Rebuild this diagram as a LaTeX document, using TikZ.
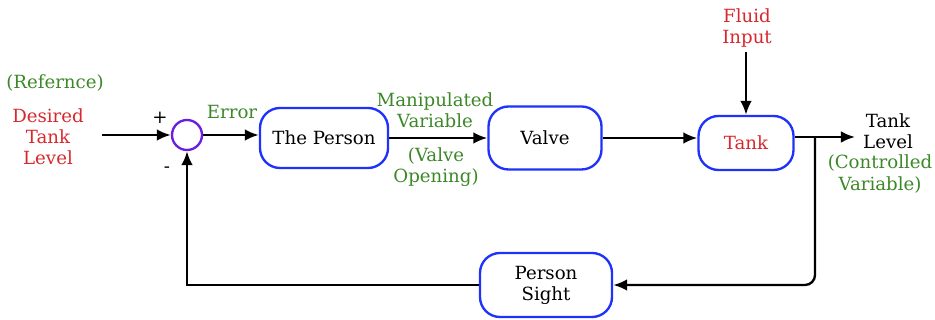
\documentclass[tikz,border=0pt]{standalone}
\usepackage{fontspec}
\setmainfont{DejaVu Serif}
\usepackage{tikz}
\usetikzlibrary{arrows.meta,calc}
\definecolor{boxblue}{RGB}{30,50,250}
\definecolor{sumviolet}{RGB}{105,30,225}
\definecolor{txtred}{RGB}{215,40,45}
\definecolor{txtgreen}{RGB}{60,135,40}
\tikzset{
  blok/.style={draw=boxblue,line width=2pt,rounded corners=0.6cm,align=center},
  arr/.style={line width=2pt,-{Latex[length=12pt,width=10pt]}},
  txt/.style={align=center,inner sep=0pt}
}

\begin{document}
\begin{tikzpicture}[x=0.03cm,y=0.03cm,font=\fontsize{15.5}{18}\selectfont]
        % рамка картинки 935x320
        \useasboundingbox (0,0) rectangle (935,320);

        % вузли схеми
        \node[draw=sumviolet,line width=2pt,circle,minimum size=0.9cm,inner sep=0pt] (sum) at (187,185) {};
        \node[blok,minimum width=3.84cm,minimum height=1.8cm] (person) at (324,182) {The Person};
        \node[blok,minimum width=3.39cm,minimum height=1.89cm] (valve) at (545,182) {Valve};
        \node[blok,minimum width=2.85cm,minimum height=1.62cm,text=txtred] (tank) at (746,177) {Tank};
        \node[blok,minimum width=3.96cm,minimum height=1.92cm] (sight) at (546,35) {Person\\Sight};

        \coordinate (in) at (102,185);
        \coordinate (split) at (815,183);
        \coordinate (out) at (855,183);
        \coordinate (feed) at (746,268);

        % написи
        \node[txt,text=txtgreen] (ref) at (55,237) {(Refernce)};
        \node[txt,text=txtred] (desired) at (48,183) {Desired\\Tank\\Level};
        \node[txt] (plus) at (160,202) {+};
        \node[txt] (minus) at (167,150) {-};
        \node[txt,text=txtgreen] (err) at (232,208) {Error};
        \node[txt,text=txtgreen] (manip) at (435,210) {Manipulated\\Variable};
        \node[txt,text=txtgreen] (vopen) at (436,153) {(Valve\\Opening)};
        \node[txt,text=txtred] (fluid) at (747,292) {Fluid\\Input};
        \node[txt] (level) at (888,189) {Tank\\Level};
        \node[txt,text=txtgreen] (ctrl) at (880,146) {(Controlled\\Variable)};

        % прямий шлях
        \draw[arr] (in) -- (sum.west);
        \draw[arr] (sum.east) -- (sum.east -| person.west);
        \draw[arr] (person.east) -- (valve.west);
        \draw[arr] (valve.east) -- (valve.east -| tank.west);
        \draw[arr] (feed) -- (tank.north);
        \draw[arr] (tank.east |- split) -- (out);

        % зворотний зв'язок
        \draw[arr,rounded corners=0.3cm] (split) |- (sight.east);
        \draw[arr] (sight.west) -| (sum.south);
    \end{tikzpicture}
\end{document}
